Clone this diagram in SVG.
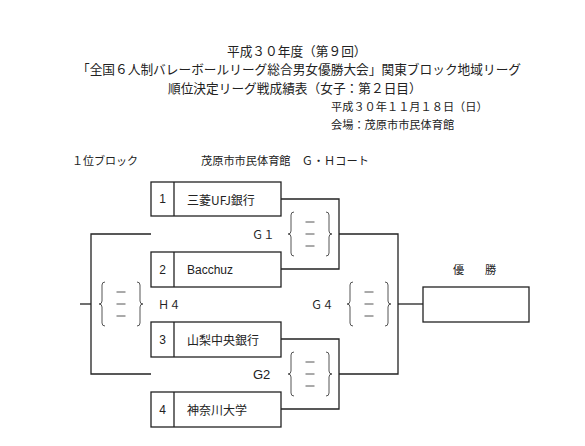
<svg xmlns="http://www.w3.org/2000/svg" xmlns:xlink="http://www.w3.org/1999/xlink" width="585" height="446" viewBox="0 0 585 446">
<style>
text{font-family:"Noto Sans CJK JP","Noto Sans",sans-serif;fill:#222;dominant-baseline:central}
.h{font-size:12.7px}
.s{font-size:11.2px}
.t{font-size:12px}
.box{fill:#fff;stroke:#222;stroke-width:1.3}
.ln{fill:none;stroke:#222;stroke-width:1.3}
.br{fill:none;stroke:#555;stroke-width:1}
.lat{font-family:"Liberation Sans","Noto Sans",sans-serif}
</style>
<defs>
<g id="score">
<path class="br" d="M-16,-22 Q-19,-22 -19,-19 L-19,-3 Q-19,0 -22,0 Q-19,0 -19,3 L-19,19 Q-19,22 -16,22"/>
<path class="br" d="M16,-22 Q19,-22 19,-19 L19,-3 Q19,0 22,0 Q19,0 19,3 L19,19 Q19,22 16,22"/>
<path class="br" d="M-4.5,-12 H4.5 M-4.5,0 H4.5 M-4.5,12 H4.5"/>
</g>
</defs>
<g id="header">
<text class="h" x="227" y="50">平成３０年度（第９回）</text>
<text class="h" x="77" y="68.5">「全国６人制バレーボールリーグ総合男女優勝大会」関東ブロック地域リーグ</text>
<text class="h" x="168" y="87">順位決定リーグ戦成績表（女子：第２日目）</text>
<text class="s" x="331" y="106">平成３０年１１月１８日（日）</text>
<text class="s" x="331" y="124">会場：茂原市市民体育館</text>
<text class="s" x="72" y="160" style="font-size:11px">１位ブロック</text>
<text class="s" x="201" y="160">茂原市市民体育館　Ｇ・Ｈコート</text>
</g>
<g id="connectors">
<path class="ln" d="M281,199 H339 V269 H281"/>
<path class="ln" d="M281,339 H339 V409 H281"/>
<path class="ln" d="M339,234 H398 V374 H339"/>
<path class="ln" d="M398,304 H423"/>
<path class="ln" d="M151,234 H91 V374 H151"/>
<path class="ln" d="M80,304 H91"/>
</g>
<g id="team1">
<rect class="box" x="151" y="182" width="130" height="34"/>
<line class="ln" x1="174" y1="182" x2="174" y2="216"/>
<text class="t lat" x="162.5" y="199" text-anchor="middle">1</text>
<text class="t" x="187" y="199">三菱UFJ銀行</text>
</g>
<g id="team2">
<rect class="box" x="151" y="252" width="130" height="35"/>
<line class="ln" x1="174" y1="252" x2="174" y2="287"/>
<text class="t lat" x="162.5" y="269.5" text-anchor="middle">2</text>
<text class="t lat" x="187" y="269.5">Bacchuz</text>
</g>
<g id="team3">
<rect class="box" x="151" y="322" width="130" height="35"/>
<line class="ln" x1="174" y1="322" x2="174" y2="357"/>
<text class="t lat" x="162.5" y="339.5" text-anchor="middle">3</text>
<text class="t" x="187" y="339.5">山梨中央銀行</text>
</g>
<g id="team4">
<rect class="box" x="151" y="392" width="130" height="35"/>
<line class="ln" x1="174" y1="392" x2="174" y2="427"/>
<text class="t lat" x="162.5" y="409.5" text-anchor="middle">4</text>
<text class="t" x="187" y="409.5">神奈川大学</text>
</g>
<g id="g1">
<text class="s" x="252" y="234">Ｇ１</text>
<use xlink:href="#score" href="#score" x="310" y="234"/>
</g>
<g id="g2">
<text class="t lat" x="253" y="374" style="font-size:13px">G2</text>
<use xlink:href="#score" href="#score" x="310" y="374"/>
</g>
<g id="g4">
<text class="s" x="311" y="304">Ｇ４</text>
<use xlink:href="#score" href="#score" x="369" y="304"/>
</g>
<g id="h4">
<text class="s" x="158" y="304">Ｈ４</text>
<use xlink:href="#score" href="#score" x="121" y="304"/>
</g>
<g id="winner">
<text class="s" x="453" y="269">優</text>
<text class="s" x="485" y="269">勝</text>
<rect class="box" x="423" y="287" width="106" height="35"/>
</g>
</svg>
